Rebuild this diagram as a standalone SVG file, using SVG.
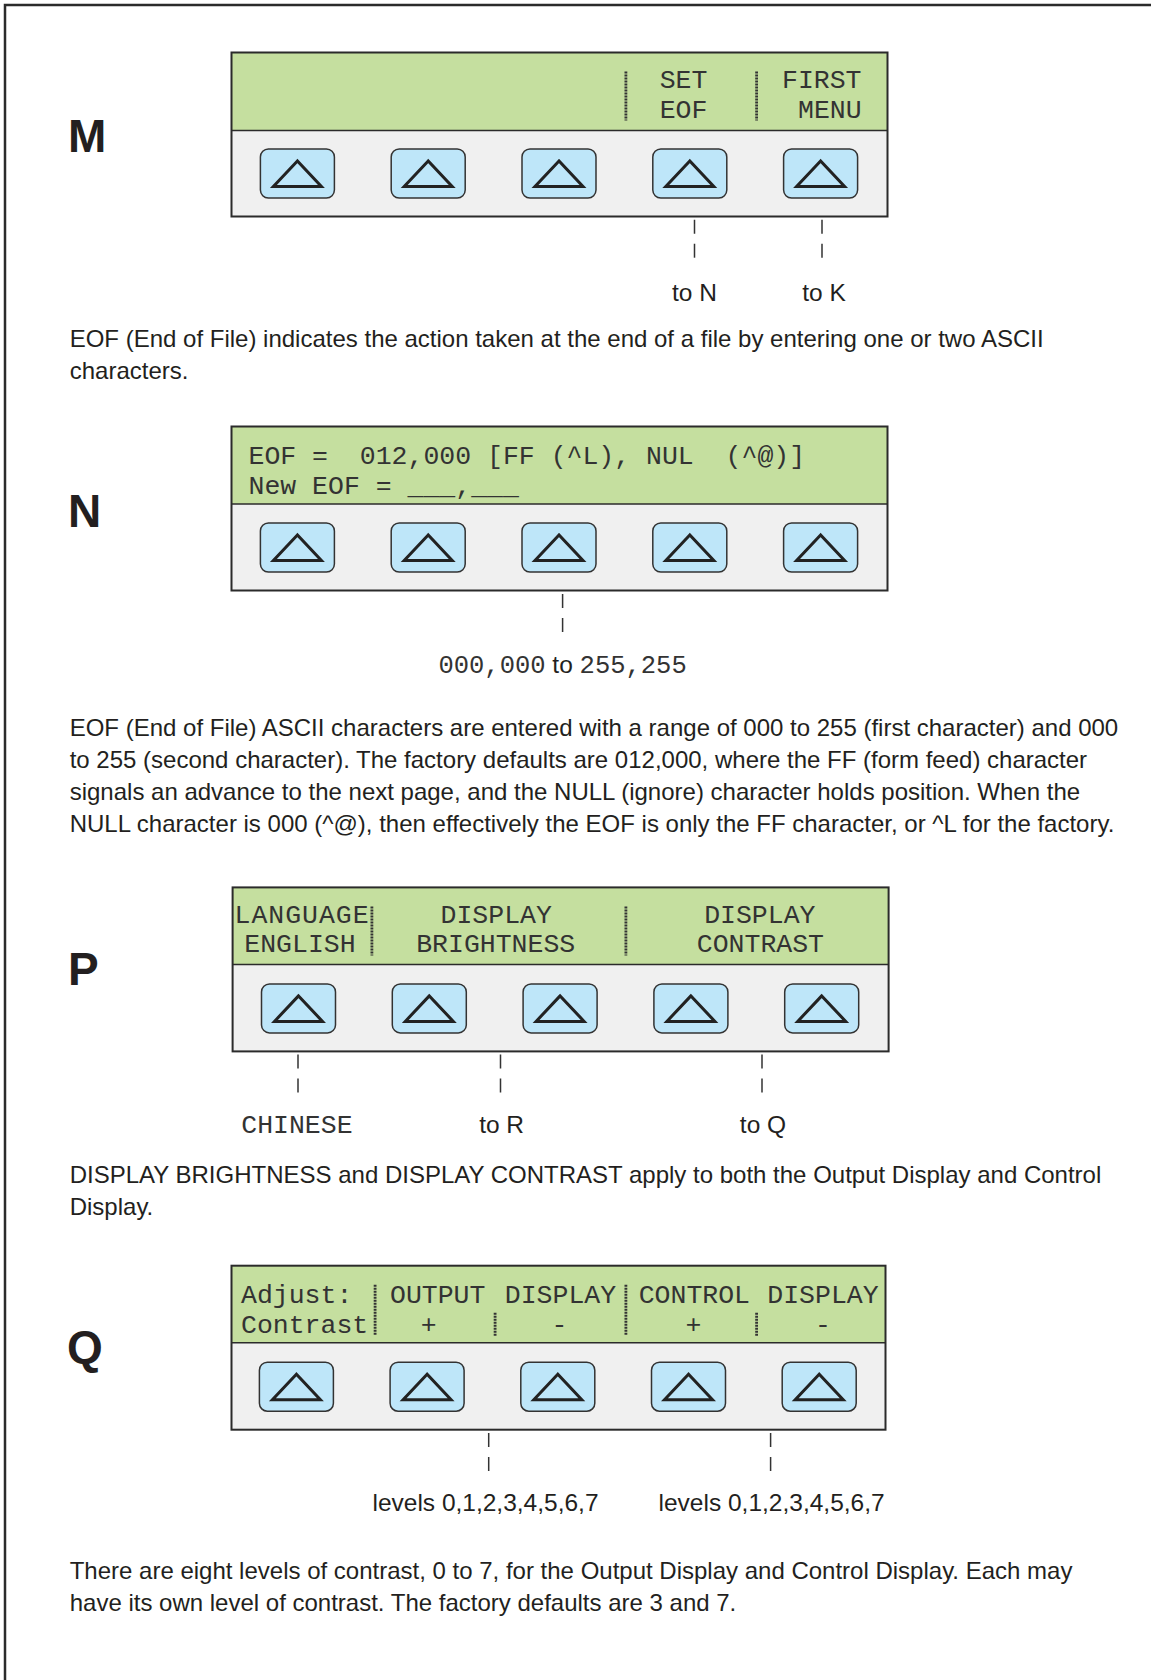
<svg xmlns="http://www.w3.org/2000/svg" xmlns:xlink="http://www.w3.org/1999/xlink" width="1151" height="1680" viewBox="0 0 1151 1680">
<style>
.lcd{font-family:"Liberation Mono","DejaVu Sans Mono",monospace;font-size:26.5px;fill:#333;white-space:pre}
.lcds{font-family:"Liberation Mono","DejaVu Sans Mono",monospace;font-size:25.5px;fill:#333;white-space:pre}
.body{font-family:"Liberation Sans",Arial,sans-serif;font-size:24px;fill:#231f20}
.tgt{font-family:"Liberation Sans",Arial,sans-serif;font-size:24.5px;fill:#231f20}
.big{font-family:"Liberation Sans",Arial,sans-serif;font-weight:bold;font-size:46px;fill:#231f20}
.green{fill:#c5df9f}
.gray{fill:#f0f0f0}
.frame{fill:none;stroke:#2b2b2b;stroke-width:2}
.conn{stroke:#333;stroke-width:1.5;stroke-dasharray:14 10;fill:none}
.bar{stroke:#333;stroke-width:2.8;stroke-dasharray:2 1}
</style>
<defs>
<g id="btn">
<rect x="0" y="0" width="74" height="49" rx="8" fill="#bee6f9" stroke="#333" stroke-width="1.5"/>
<path d="M37 12 L13 37.5 L61 37.5 Z" fill="none" stroke="#222" stroke-width="3"/>
</g>
</defs>
<rect width="1151" height="1680" fill="#fff"/>
<path d="M1151 5 H5 V1680" fill="none" stroke="#2b2b2b" stroke-width="2.5"/>

<g id="label-M"><text class="big" x="68" y="152">M</text></g>
<g id="label-N"><text class="big" x="68" y="527">N</text></g>
<g id="label-P"><text class="big" x="68" y="985">P</text></g>
<g id="label-Q"><text class="big" x="67" y="1363">Q</text></g>

<g id="panel-M" transform="translate(231.5,52.5)">
<rect class="green" x="0" y="0" width="656" height="78"/>
<rect class="gray" x="0" y="78" width="656" height="86"/>
<rect class="frame" x="0" y="0" width="656" height="164"/>
<line x1="0" y1="78" x2="656" y2="78" stroke="#2b2b2b" stroke-width="1.5"/>
<line class="bar" x1="394.4" y1="19" x2="394.4" y2="68"/>
<line class="bar" x1="525.1" y1="19" x2="525.1" y2="68"/>
<text class="lcd" x="452" y="35" text-anchor="middle">SET</text>
<text class="lcd" x="452" y="65" text-anchor="middle">EOF</text>
<text class="lcd" x="550.5" y="35">FIRST</text>
<text class="lcd" x="566.5" y="65">MENU</text>
<use xlink:href="#btn" x="28.9" y="96.5"/>
<use xlink:href="#btn" x="159.7" y="96.5"/>
<use xlink:href="#btn" x="290.5" y="96.5"/>
<use xlink:href="#btn" x="421.3" y="96.5"/>
<use xlink:href="#btn" x="552.1" y="96.5"/>
</g>

<g id="panel-N" transform="translate(231.5,426.5)">
<rect class="green" x="0" y="0" width="656" height="77.5"/>
<rect class="gray" x="0" y="77.5" width="656" height="86.5"/>
<rect class="frame" x="0" y="0" width="656" height="164"/>
<line x1="0" y1="77.5" x2="656" y2="77.5" stroke="#2b2b2b" stroke-width="1.5"/>
<text class="lcd" x="17" y="37">EOF =  012,000 [FF (^L), NUL  (^@)]</text>
<text class="lcd" x="17" y="67">New EOF = ___,___</text>
<use xlink:href="#btn" x="28.9" y="96.5"/>
<use xlink:href="#btn" x="159.7" y="96.5"/>
<use xlink:href="#btn" x="290.5" y="96.5"/>
<use xlink:href="#btn" x="421.3" y="96.5"/>
<use xlink:href="#btn" x="552.1" y="96.5"/>
</g>

<g id="panel-P" transform="translate(232.6,887.4)">
<rect class="green" x="0" y="0" width="656" height="77"/>
<rect class="gray" x="0" y="77" width="656" height="87"/>
<rect class="frame" x="0" y="0" width="656" height="164"/>
<line x1="0" y1="77" x2="656" y2="77" stroke="#2b2b2b" stroke-width="1.5"/>
<line class="bar" x1="139.3" y1="19" x2="139.3" y2="68"/>
<line class="bar" x1="393.3" y1="19" x2="393.3" y2="68"/>
<text class="lcd" x="2" y="36" textLength="134" lengthAdjust="spacing">LANGUAGE</text>
<text class="lcd" x="11.7" y="65">ENGLISH</text>
<text class="lcd" x="263.6" y="36" text-anchor="middle">DISPLAY</text>
<text class="lcd" x="263.1" y="65" text-anchor="middle">BRIGHTNESS</text>
<text class="lcd" x="527.2" y="36" text-anchor="middle">DISPLAY</text>
<text class="lcd" x="527.8" y="65" text-anchor="middle">CONTRAST</text>
<use xlink:href="#btn" x="28.9" y="96.5"/>
<use xlink:href="#btn" x="159.7" y="96.5"/>
<use xlink:href="#btn" x="290.5" y="96.5"/>
<use xlink:href="#btn" x="421.3" y="96.5"/>
<use xlink:href="#btn" x="552.1" y="96.5"/>
</g>

<g id="panel-Q" transform="translate(231.5,1265.7)">
<rect class="green" x="0" y="0" width="654" height="77"/>
<rect class="gray" x="0" y="77" width="654" height="87"/>
<rect class="frame" x="0" y="0" width="654" height="164"/>
<line x1="0" y1="77" x2="654" y2="77" stroke="#2b2b2b" stroke-width="1.5"/>
<line class="bar" x1="143.6" y1="19" x2="143.6" y2="70"/>
<line class="bar" x1="263.6" y1="47" x2="263.6" y2="70"/>
<line class="bar" x1="394.4" y1="19" x2="394.4" y2="70"/>
<line class="bar" x1="525.1" y1="47" x2="525.1" y2="70"/>
<text class="lcd" x="9.5" y="37">Adjust:</text>
<text class="lcd" x="9.5" y="67">Contrast</text>
<text class="lcd" x="158.5" y="37">OUTPUT</text>
<text class="lcd" x="197.2" y="67" text-anchor="middle">+</text>
<text class="lcd" x="273.3" y="37">DISPLAY</text>
<text class="lcd" x="327.9" y="67" text-anchor="middle">-</text>
<text class="lcd" x="407.2" y="37">CONTROL</text>
<text class="lcd" x="461.9" y="67" text-anchor="middle">+</text>
<text class="lcd" x="535.8" y="37">DISPLAY</text>
<text class="lcd" x="591.5" y="67" text-anchor="middle">-</text>
<use xlink:href="#btn" x="27.9" y="96.5"/>
<use xlink:href="#btn" x="158.6" y="96.5"/>
<use xlink:href="#btn" x="289.3" y="96.5"/>
<use xlink:href="#btn" x="420" y="96.5"/>
<use xlink:href="#btn" x="550.7" y="96.5"/>
</g>

<g id="connectors">
<line class="conn" x1="694.5" y1="219.7" x2="694.5" y2="259.4"/>
<line class="conn" x1="822" y1="219.7" x2="822" y2="259.4"/>
<line class="conn" x1="562.6" y1="594" x2="562.6" y2="633.5"/>
<line class="conn" x1="298" y1="1054.5" x2="298" y2="1094"/>
<line class="conn" x1="500.5" y1="1054.5" x2="500.5" y2="1094"/>
<line class="conn" x1="762" y1="1054.5" x2="762" y2="1094"/>
<line class="conn" x1="488.7" y1="1433" x2="488.7" y2="1472.5"/>
<line class="conn" x1="770.6" y1="1433" x2="770.6" y2="1472.5"/>
</g>

<g id="targets">
<text class="tgt" x="694.5" y="301" text-anchor="middle">to N</text>
<text class="tgt" x="824" y="301" text-anchor="middle">to K</text>
<text x="562.6" y="673" text-anchor="middle"><tspan class="lcds">000,000</tspan><tspan class="tgt"> to </tspan><tspan class="lcds">255,255</tspan></text>
<text class="lcd" x="296.9" y="1133" text-anchor="middle" font-size="27">CHINESE</text>
<text class="tgt" x="501.6" y="1133" text-anchor="middle">to R</text>
<text class="tgt" x="763" y="1133" text-anchor="middle">to Q</text>
<text class="tgt" x="485.5" y="1511" text-anchor="middle" font-size="25">levels 0,1,2,3,4,5,6,7</text>
<text class="tgt" x="771.6" y="1511" text-anchor="middle" font-size="25">levels 0,1,2,3,4,5,6,7</text>
</g>

<g id="notes">
<text class="body" x="69.7" y="347">EOF (End of File) indicates the action taken at the end of a file by entering one or two ASCII</text>
<text class="body" x="69.7" y="379">characters.</text>
<text class="body" x="69.7" y="736">EOF (End of File) ASCII characters are entered with a range of 000 to 255 (first character) and 000</text>
<text class="body" x="69.7" y="768">to 255 (second character). The factory defaults are 012,000, where the FF (form feed) character</text>
<text class="body" x="69.7" y="800">signals an advance to the next page, and the NULL (ignore) character holds position. When the</text>
<text class="body" x="69.7" y="832">NULL character is 000 (^@), then effectively the EOF is only the FF character, or ^L for the factory.</text>
<text class="body" x="69.7" y="1183">DISPLAY BRIGHTNESS and DISPLAY CONTRAST apply to both the Output Display and Control</text>
<text class="body" x="69.7" y="1215">Display.</text>
<text class="body" x="69.7" y="1579">There are eight levels of contrast, 0 to 7, for the Output Display and Control Display. Each may</text>
<text class="body" x="69.7" y="1611">have its own level of contrast. The factory defaults are 3 and 7.</text>
</g>
</svg>
